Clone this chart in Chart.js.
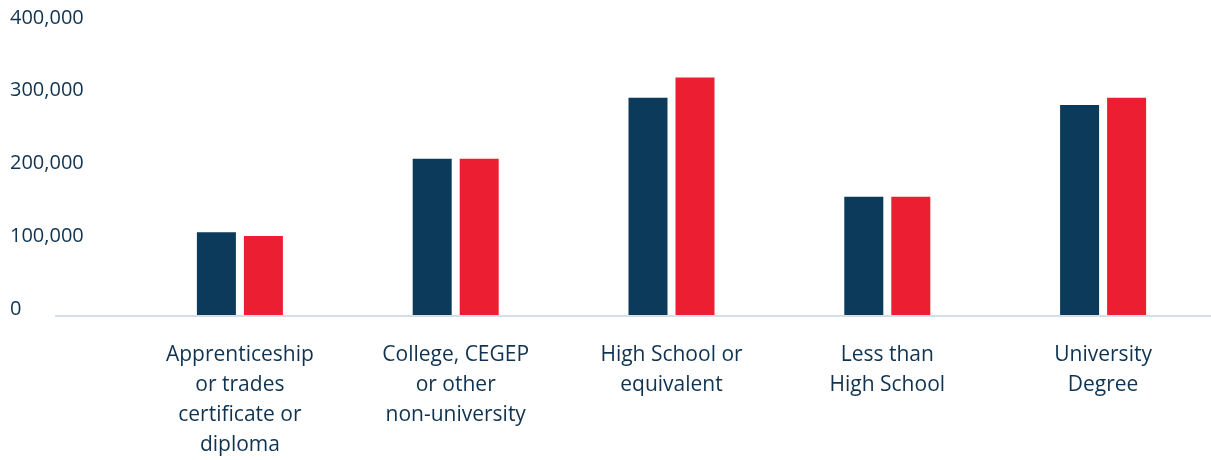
<!DOCTYPE html>
<html>
<head>
<meta charset="utf-8">
<script src="https://cdn.jsdelivr.net/npm/chart.js@4/dist/chart.umd.min.js"></script>
<style>
  html, body { margin: 0; padding: 0; background: #ffffff; }
  #wrap { width: 1211px; height: 460px; position: relative; }
</style>
</head>
<body>
<div id="wrap"><canvas id="c"></canvas></div>
<script>
const categories = [
  ['Apprenticeship', 'or trades', 'certificate or', 'diploma'],
  ['College, CEGEP', 'or other', 'non-university'],
  ['High School or', 'equivalent'],
  ['Less than', 'High School'],
  ['University', 'Degree']
];
const seriesA = [115000, 216000, 300000, 164000, 290000];
const seriesB = [110000, 216000, 328000, 164000, 300000];
const yTicks = [0, 100000, 200000, 300000, 400000];

const navy = '#0b3a5b';
const red = '#ec1f32';
const textColor = '#0f3350';
const FONT = '"Open Sans", Lato, sans-serif';

const baseline = {
  id: 'baseline',
  afterDatasetsDraw(chart) {
    const ctx = chart.ctx;
    const y = chart.chartArea.bottom;
    ctx.save();
    ctx.strokeStyle = '#d3dfe7';
    ctx.lineWidth = 2;
    ctx.beginPath();
    ctx.moveTo(55, y);
    ctx.lineTo(chart.width, y);
    ctx.stroke();
    ctx.restore();
  }
};

new Chart(document.getElementById('c'), {
  type: 'bar',
  data: {
    labels: categories,
    datasets: [
      { data: seriesA, backgroundColor: navy, categoryPercentage: 0.4356, barPercentage: 0.83 },
      { data: seriesB, backgroundColor: red, categoryPercentage: 0.4356, barPercentage: 0.83 }
    ]
  },
  options: {
    responsive: true,
    maintainAspectRatio: false,
    animation: false,
    events: [],
    layout: { padding: { left: 10, top: 25, right: 0, bottom: 0 } },
    plugins: { legend: { display: false }, tooltip: { enabled: false } },
    scales: {
      x: {
        grid: { display: false, drawTicks: false },
        border: { display: false },
        ticks: {
          color: textColor,
          font: { family: FONT, size: 21, lineHeight: '30px' },
          padding: 24,
          maxRotation: 0,
          autoSkip: false
        },
        afterFit(s) { s.height = 144; }
      },
      y: {
        min: 0,
        max: 400000,
        afterBuildTicks(s) { s.ticks = yTicks.map(v => ({ value: v })); },
        grid: { display: false, drawTicks: false },
        border: { display: false },
        ticks: {
          color: textColor,
          crossAlign: 'far',
          font: { family: FONT, size: 20, lineHeight: '14px' },
          callback: (v) => [Number(v).toLocaleString('en-US'), '']
        },
        afterFit(s) { s.width = 122; }
      }
    }
  },
  plugins: [baseline]
});
</script>
</body>
</html>
